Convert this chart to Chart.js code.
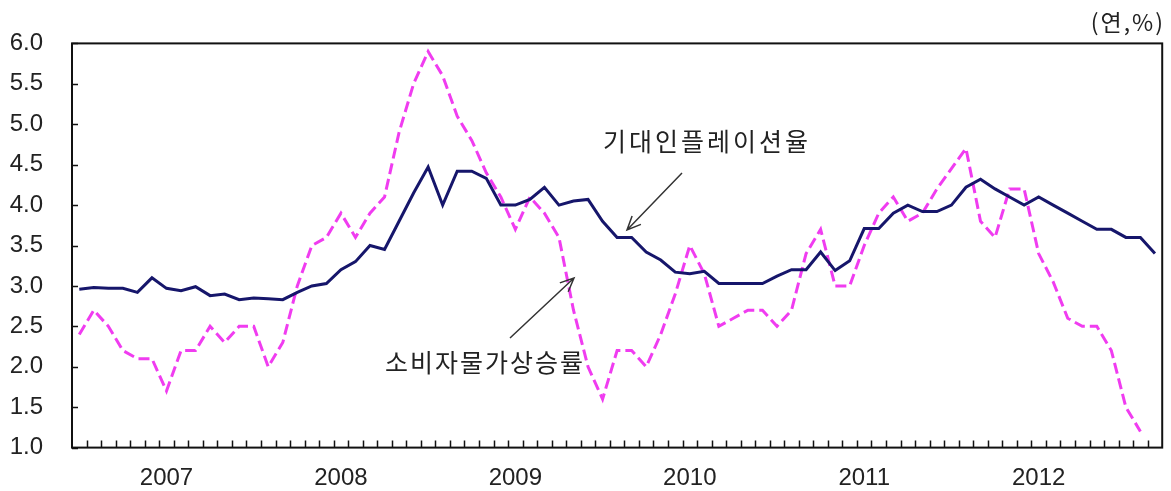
<!DOCTYPE html>
<html>
<head>
<meta charset="utf-8">
<script src="https://cdn.jsdelivr.net/npm/chart.js@4.4.1/dist/chart.umd.min.js"></script>
<style>
  html, body { margin: 0; background: #fff; }
</style>
</head>
<body>
<canvas id="chart" width="1171" height="491"></canvas>
<script>
// monthly categories, Jul 2006 - Sep 2012
const months = [
  '2006.07','2006.08','2006.09','2006.10','2006.11','2006.12',
  '2007.01','2007.02','2007.03','2007.04','2007.05','2007.06','2007.07','2007.08','2007.09','2007.10','2007.11','2007.12',
  '2008.01','2008.02','2008.03','2008.04','2008.05','2008.06','2008.07','2008.08','2008.09','2008.10','2008.11','2008.12',
  '2009.01','2009.02','2009.03','2009.04','2009.05','2009.06','2009.07','2009.08','2009.09','2009.10','2009.11','2009.12',
  '2010.01','2010.02','2010.03','2010.04','2010.05','2010.06','2010.07','2010.08','2010.09','2010.10','2010.11','2010.12',
  '2011.01','2011.02','2011.03','2011.04','2011.05','2011.06','2011.07','2011.08','2011.09','2011.10','2011.11','2011.12',
  '2012.01','2012.02','2012.03','2012.04','2012.05','2012.06','2012.07','2012.08','2012.09'
];

// 기대인플레이션율
const expectedInflation = [
  2.96, 2.98, 2.97, 2.97, 2.92, 3.10,
  2.97, 2.94, 2.99, 2.88, 2.90, 2.83, 2.85, 2.84, 2.83, 2.92, 3.00, 3.03,
  3.20, 3.30, 3.50, 3.45, 3.80, 4.15, 4.47, 4.00, 4.42, 4.42, 4.33, 4.00,
  4.00, 4.07, 4.22, 4.00, 4.05, 4.07, 3.80, 3.60, 3.60, 3.42, 3.32, 3.17,
  3.15, 3.18, 3.03, 3.03, 3.03, 3.03, 3.12, 3.20, 3.20, 3.42, 3.19, 3.31,
  3.71, 3.71, 3.90, 4.00, 3.92, 3.92, 4.00, 4.22, 4.32, 4.20, 4.10, 4.00,
  4.10, 4.00, 3.90, 3.80, 3.70, 3.70, 3.60, 3.60, 3.40
];

// 소비자물가상승률
const cpiInflation = [
  2.4, 2.7, 2.5, 2.2, 2.1, 2.1,
  1.7, 2.2, 2.2, 2.5, 2.3, 2.5, 2.5, 2.0, 2.3, 3.0, 3.5, 3.6,
  3.9, 3.6, 3.9, 4.1, 4.9, 5.5, 5.9, 5.6, 5.1, 4.8, 4.4, 4.1,
  3.7, 4.1, 3.9, 3.6, 2.7, 2.0, 1.6, 2.2, 2.2, 2.0, 2.4, 2.9,
  3.5, 3.15, 2.5, 2.6, 2.7, 2.7, 2.5, 2.7, 3.4, 3.7, 3.0, 3.0,
  3.5, 3.9, 4.1, 3.8, 3.9, 4.2, 4.45, 4.7, 3.8, 3.6, 4.2, 4.2,
  3.4, 3.05, 2.6, 2.5, 2.5, 2.2, 1.5, 1.2, null
];

const yearLabels = ['2007', '2008', '2009', '2010', '2011', '2012'];
const yMin = 1.0, yMax = 6.0, yStep = 0.5;

const numFont = '"Liberation Sans", Arial, sans-serif';
const krFont = '"Noto Sans CJK KR", "Noto Sans", sans-serif';

// frame, inward tick marks, labels and arrows
const overlay = {
  id: 'overlay',
  beforeDatasetsDraw(chart) {
    const { ctx, chartArea: a, scales: { x, y } } = chart;
    ctx.save();
    ctx.strokeStyle = '#111';
    ctx.lineWidth = 1.5;
    ctx.beginPath();
    for (let i = 1; i < months.length; i++) {
      const bx = Math.round((x.getPixelForValue(i - 1) + x.getPixelForValue(i)) / 2) + 0.5;
      ctx.moveTo(bx, a.bottom);
      ctx.lineTo(bx, a.bottom - 7);
    }
    y.ticks.forEach(t => {
      const ty = Math.round(y.getPixelForValue(t.value)) + 0.5;
      ctx.moveTo(a.left, ty);
      ctx.lineTo(a.left + 6, ty);
    });
    ctx.stroke();
    ctx.lineWidth = 2;
    ctx.strokeRect(a.left, a.top, a.right - a.left, a.bottom - a.top);
    ctx.restore();
  },
  afterDraw(chart) {
    const { ctx } = chart;
    ctx.save();
    ctx.fillStyle = '#222';
    ctx.textBaseline = 'middle';
    ctx.font = '23px ' + krFont;
    ctx.letterSpacing = '2px';
    ctx.textAlign = 'right';
    ctx.fillText('(연,%)', 1165, 22);
    ctx.font = '25px ' + krFont;
    ctx.textAlign = 'left';
    ctx.letterSpacing = '3px';
    ctx.fillText('기대인플레이션율', 603, 141);
    ctx.letterSpacing = '2px';
    ctx.fillText('소비자물가상승률', 385, 362);
    ctx.letterSpacing = '0px';

    function arrow(x1, y1, x2, y2) {
      const ang = Math.atan2(y2 - y1, x2 - x1);
      const len = 15, spread = 0.42;
      ctx.beginPath();
      ctx.moveTo(x1, y1);
      ctx.lineTo(x2, y2);
      ctx.moveTo(x2 - len * Math.cos(ang - spread), y2 - len * Math.sin(ang - spread));
      ctx.lineTo(x2, y2);
      ctx.lineTo(x2 - len * Math.cos(ang + spread), y2 - len * Math.sin(ang + spread));
      ctx.stroke();
    }
    ctx.strokeStyle = '#333';
    ctx.lineWidth = 1.5;
    arrow(682, 173, 627, 230);
    arrow(510, 338, 574, 278);
    ctx.restore();
  }
};

new Chart(document.getElementById('chart'), {
  type: 'line',
  data: {
    labels: months,
    datasets: [
      {
        label: '기대인플레이션율',
        data: expectedInflation,
        borderColor: '#16166b',
        borderWidth: 3,
        pointRadius: 0,
        tension: 0
      },
      {
        label: '소비자물가상승률',
        data: cpiInflation,
        borderColor: '#f03cf0',
        borderWidth: 3,
        borderDash: [11, 5],
        pointRadius: 0,
        tension: 0
      }
    ]
  },
  options: {
    responsive: false,
    animation: false,
    devicePixelRatio: 1,
    layout: { padding: { top: 41, right: 8, left: 0, bottom: 0 } },
    plugins: {
      legend: { display: false },
      tooltip: { enabled: false }
    },
    scales: {
      x: {
        type: 'category',
        offset: true,
        grid: { display: false, drawTicks: false },
        border: { display: false },
        afterFit: s => { s.height = 39; },
        ticks: {
          autoSkip: false,
          maxRotation: 0,
          padding: 16,
          color: '#222',
          font: { family: numFont, size: 24 },
          callback: function (v, i) {
            const m = months[i];
            if (m.endsWith('.01')) {
              const yr = m.slice(0, 4);
              return yearLabels.includes(yr) ? yr : '';
            }
            return '';
          }
        }
      },
      y: {
        min: yMin,
        max: yMax,
        grid: { display: false, drawTicks: false },
        border: { display: false },
        afterFit: s => { s.width = 72; },
        ticks: {
          stepSize: yStep,
          padding: 29,
          color: '#222',
          font: { family: numFont, size: 24 },
          callback: v => v.toFixed(1)
        }
      }
    }
  },
  plugins: [overlay]
});
</script>
</body>
</html>
